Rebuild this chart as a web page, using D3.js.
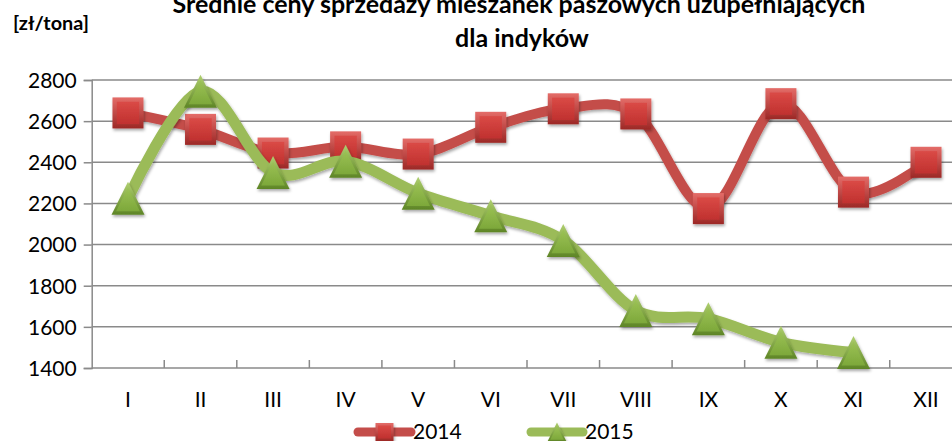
<!DOCTYPE html>
<html>
<head>
<meta charset="utf-8">
<script src="https://cdn.jsdelivr.net/npm/d3@7"></script>
<style>
html,body{margin:0;padding:0;background:#fff;overflow:hidden;}
svg{display:block;}
text{font-family:Lato,"Open Sans",sans-serif;fill:#000;}
</style>
</head>
<body>
<svg id="chart" width="952" height="441"></svg>
<script>
// ---- data ----
const months = ["I","II","III","IV","V","VI","VII","VIII","IX","X","XI","XII"];
const values2014 = [2640, 2560, 2445, 2475, 2440, 2570, 2660, 2635, 2175, 2685, 2255, 2400];
const values2015 = [2225, 2745, 2350, 2405, 2250, 2140, 2020, 1680, 1640, 1525, 1475, null];
const yTicks = [1400, 1600, 1800, 2000, 2200, 2400, 2600, 2800];
const seriesNames = ["2014", "2015"];
const titleLines = ["Średnie ceny sprzedaży mieszanek paszowych uzupełniających", "dla indyków"];
const unitLabel = "[zł/tona]";

const svg = d3.select("#chart");
const defs = svg.append("defs");

// gradients & filters
const sq = defs.append("linearGradient").attr("id","sqOuter").attr("x1",0).attr("y1",0).attr("x2",0).attr("y2",1);
sq.append("stop").attr("offset","0%").attr("stop-color","#E46C68");
sq.append("stop").attr("offset","100%").attr("stop-color","#9C2826");
const sqIn = defs.append("linearGradient").attr("id","sqInner").attr("x1",0).attr("y1",0).attr("x2",0).attr("y2",1);
sqIn.append("stop").attr("offset","0%").attr("stop-color","#DA4A46");
sqIn.append("stop").attr("offset","100%").attr("stop-color","#C0312F");
const tr = defs.append("linearGradient").attr("id","trOuter").attr("x1",0).attr("y1",0).attr("x2",0).attr("y2",1);
tr.append("stop").attr("offset","0%").attr("stop-color","#B0D070");
tr.append("stop").attr("offset","100%").attr("stop-color","#5E8526");
const trIn = defs.append("linearGradient").attr("id","trInner").attr("x1",0).attr("y1",0).attr("x2",0).attr("y2",1);
trIn.append("stop").attr("offset","0%").attr("stop-color","#9CC256");
trIn.append("stop").attr("offset","100%").attr("stop-color","#7DA83A");
const sh = defs.append("filter").attr("id","shadow").attr("x","-30%").attr("y","-30%").attr("width","160%").attr("height","160%");
sh.append("feDropShadow").attr("dx",1).attr("dy",2).attr("stdDeviation",1.5).attr("flood-color","#000").attr("flood-opacity",0.35);

// scales
const x = d3.scaleBand().domain(months).range([91.7, 962.3]).paddingInner(0).paddingOuter(0);
const y = d3.scaleLinear().domain([1400, 2800]).range([368, 80]);
const cx = m => x(m) + x.bandwidth()/2;

// gridlines + y axis
const yAxis = d3.axisLeft(y).tickValues(yTicks).tickSize(8).tickFormat(d3.format("d"));
const yg = svg.append("g").attr("transform","translate(91.7,0)").call(yAxis);
yg.select(".domain").attr("stroke","#8a8a8a").attr("stroke-width",1.5);
yg.selectAll(".tick line").attr("stroke","#8a8a8a").attr("stroke-width",1.5);
yg.selectAll(".tick text").attr("x",-15).attr("dy","0.35em").style("font-size","21px").style("font-family","Lato");
svg.append("g").selectAll("line.grid").data(yTicks).join("line")
  .attr("x1",91.7).attr("x2",952).attr("y1",d=>y(d)).attr("y2",d=>y(d))
  .attr("stroke","#8a8a8a").attr("stroke-width",1.5);

// x axis
const xAxis = d3.axisBottom(x).tickSize(0);
const xg = svg.append("g").attr("transform","translate(0,368)").call(xAxis);
xg.select(".domain").remove();
xg.selectAll(".tick text").attr("y",32).attr("dy","0.35em").style("font-size","21px").style("font-family","Lato");
// category boundary ticks pointing up
svg.append("g").selectAll("line.xt").data(months.slice(1)).join("line")
  .attr("x1",d=>x(d)).attr("x2",d=>x(d)).attr("y1",368).attr("y2",360)
  .attr("stroke","#8a8a8a").attr("stroke-width",1.5);

// lines
const line = d3.line().defined(d=>d.v!=null).x(d=>cx(d.m)).y(d=>y(d.v)).curve(d3.curveCardinal.tension(0));
const d14 = months.map((m,i)=>({m, v:values2014[i]}));
const d15 = months.map((m,i)=>({m, v:values2015[i]}));

function squareMarker(g, s){
  g.append("rect").attr("x",-s/2).attr("y",-s/2).attr("width",s).attr("height",s).attr("fill","url(#sqOuter)");
  const k = s*0.14;
  g.append("rect").attr("x",-s/2+k).attr("y",-s/2+k).attr("width",s-2*k).attr("height",s-2*k).attr("fill","url(#sqInner)");
}
function triMarker(g, s){
  const h = s;
  g.append("path").attr("d",`M0,${-h/2} L${s/2},${h/2} L${-s/2},${h/2}Z`).attr("fill","url(#trOuter)");
  const k = 0.72;
  g.append("path").attr("d",`M0,${-h/2*k+1} L${s/2*k},${h/2*k+1} L${-s/2*k},${h/2*k+1}Z`).attr("fill","url(#trInner)");
}

svg.append("path").datum(d14).attr("d",line).attr("fill","none").attr("stroke","#C44D4A").attr("stroke-width",10)
  .attr("stroke-linejoin","round").attr("filter","url(#shadow)");
svg.append("g").selectAll("g").data(d14).join("g")
  .attr("transform",d=>`translate(${cx(d.m)},${y(d.v)})`).attr("filter","url(#shadow)")
  .each(function(){ squareMarker(d3.select(this), 31); });

svg.append("path").datum(d15).attr("d",line).attr("fill","none").attr("stroke","#9BBB59").attr("stroke-width",11)
  .attr("stroke-linejoin","round").attr("filter","url(#shadow)");
svg.append("g").selectAll("g").data(d15.filter(d=>d.v!=null)).join("g")
  .attr("transform",d=>`translate(${cx(d.m)},${y(d.v)})`).attr("filter","url(#shadow)")
  .each(function(){ triMarker(d3.select(this), 33); });

// title
const t1 = svg.append("text").attr("x",519).attr("y",13).attr("text-anchor","middle")
  .style("font-weight","bold").style("font-size","21px").text(titleLines[0]);
const w1 = t1.node().getComputedTextLength();
const fs = 21*693/w1;
t1.style("font-size",fs+"px");
svg.append("text").attr("x",522).attr("y",47).attr("text-anchor","middle")
  .style("font-weight","bold").style("font-size",fs+"px").text(titleLines[1]);

// unit label
const ul = svg.append("text").attr("x",13).attr("y",30).style("font-weight","bold").style("font-size","17px").text(unitLabel);
const uw = ul.node().getComputedTextLength();
ul.style("font-size",(17*76/uw)+"px");

// legend
const lg = svg.append("g");
const legendItems = [
  {name:seriesNames[0], x1:358, x2:411, color:"#C44D4A", w:9, marker:"sq", tx:413},
  {name:seriesNames[1], x1:531, x2:583, color:"#9BBB59", w:9, marker:"tr", tx:585}
];
legendItems.forEach(it=>{
  lg.append("line").attr("x1",it.x1).attr("x2",it.x2).attr("y1",432).attr("y2",432)
    .attr("stroke",it.color).attr("stroke-width",it.w).attr("stroke-linecap","round");
  const mg = lg.append("g").attr("transform",`translate(${(it.x1+it.x2)/2},432)`).attr("filter","url(#shadow)");
  if(it.marker==="sq") squareMarker(mg,18); else triMarker(mg,19);
  lg.append("text").attr("x",it.tx).attr("y",439).style("font-size","21px").text(it.name);
});
</script>
</body>
</html>
